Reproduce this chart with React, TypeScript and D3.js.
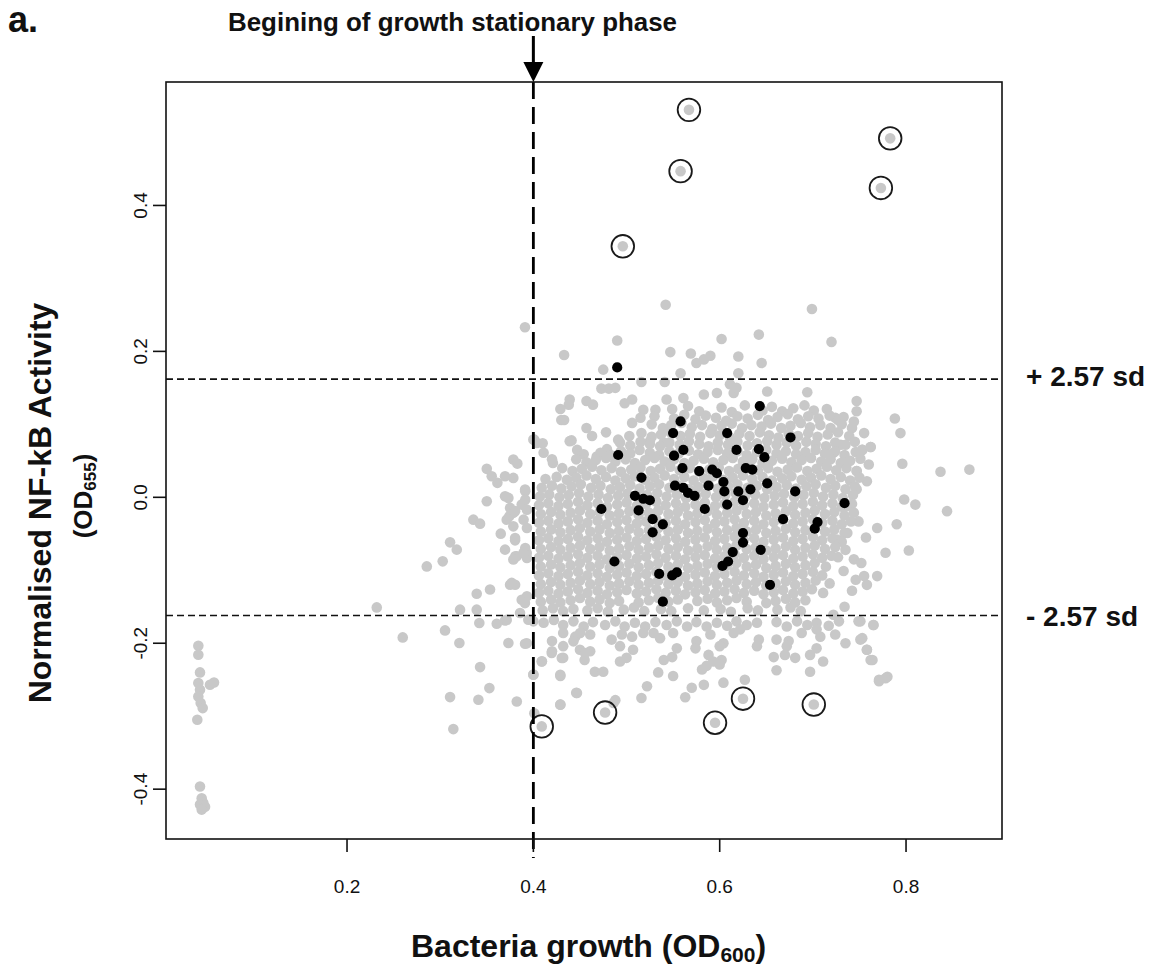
import React from 'react';
import * as d3 from 'd3';

// ---- data ----
const xTicks = [0.2, 0.4, 0.6, 0.8];
const yTicks = [-0.4, -0.2, 0.0, 0.2, 0.4];
const xDomain: [number, number] = [0.0057, 0.903];
const yDomain: [number, number] = [-0.4683, 0.5692];
const sdLimit = 0.162; // +/- 2.57 sd
const stationaryOD = 0.4; // begining of growth stationary phase

// highlighted hits (circled)
const circledOutliers = [
  [0.567, 0.531], [0.783, 0.492], [0.558, 0.447], [0.773, 0.424], [0.496, 0.344],
  [0.409, -0.314], [0.477, -0.295], [0.595, -0.309], [0.625, -0.276], [0.701, -0.284],
];

// black: control wells
const blackPoints = [
  [0.490, 0.178], [0.643, 0.125], [0.558, 0.104], [0.550, 0.088], [0.608, 0.088], [0.676, 0.082],
  [0.561, 0.065], [0.551, 0.057], [0.491, 0.058], [0.618, 0.065], [0.642, 0.066], [0.648, 0.055],
  [0.560, 0.040], [0.578, 0.036], [0.592, 0.038], [0.597, 0.033], [0.628, 0.040], [0.635, 0.038],
  [0.516, 0.027], [0.588, 0.016], [0.604, 0.021], [0.605, 0.008], [0.552, 0.016], [0.561, 0.013],
  [0.566, 0.006], [0.573, 0.002], [0.620, 0.008], [0.633, 0.011], [0.625, -0.004], [0.651, 0.019],
  [0.681, 0.008], [0.734, -0.008], [0.509, 0.002], [0.518, -0.002], [0.525, -0.004], [0.513, -0.018],
  [0.473, -0.016], [0.584, -0.016], [0.608, -0.010], [0.528, -0.030], [0.539, -0.037], [0.528, -0.048],
  [0.668, -0.030], [0.705, -0.034], [0.702, -0.043], [0.625, -0.049], [0.625, -0.062], [0.644, -0.072],
  [0.614, -0.075], [0.609, -0.088], [0.603, -0.094], [0.487, -0.088], [0.535, -0.105], [0.549, -0.107],
  [0.554, -0.103], [0.654, -0.120], [0.539, -0.143],
];

// grey: library wells, dense central cloud
const greyCore = [
  [.549,.121],[.566,.125],[.578,.118],[.602,.123],[.613,.117],[.627,.126],[.646,.119],[.656,.124],[.667,.118],[.679,.122],[.691,.126],[.701,.119],[.715,.121],
  [.551,.108],[.562,.113],[.574,.107],[.585,.112],[.596,.109],[.607,.105],[.619,.111],[.630,.108],[.641,.113],[.652,.106],[.662,.110],[.673,.114],[.684,.107],[.695,.111],[.706,.108],[.718,.112],[.727,.106],
  [.527,.100],[.539,.095],[.548,.099],[.559,.102],[.570,.096],[.581,.099],[.592,.094],[.602,.098],[.613,.101],[.624,.095],[.634,.099],[.645,.097],[.655,.101],[.666,.095],[.676,.098],[.687,.102],[.697,.096],[.708,.099],[.719,.095],[.731,.100],
  [.503,.084],[.516,.088],[.527,.083],[.537,.086],[.547,.089],[.558,.084],[.568,.087],[.579,.083],[.590,.088],[.600,.085],[.611,.082],[.621,.087],[.632,.084],[.643,.089],[.653,.085],[.663,.082],[.674,.087],[.684,.084],[.695,.088],[.705,.083],[.716,.086],[.727,.089],[.739,.084],
  [.493,.075],[.504,.071],[.515,.076],[.525,.073],[.536,.070],[.546,.075],[.557,.072],[.567,.077],[.578,.073],[.588,.070],[.598,.075],[.609,.072],[.619,.076],[.630,.071],[.640,.074],[.651,.077],[.661,.072],[.672,.075],[.682,.071],[.693,.076],[.703,.073],[.714,.070],[.724,.075],[.735,.072],[.745,.076],
  [.472,.061],[.483,.058],[.494,.063],[.504,.060],[.514,.065],[.525,.061],[.535,.058],[.546,.063],[.556,.060],[.567,.064],[.577,.059],[.587,.062],[.598,.065],[.608,.060],[.619,.063],[.629,.058],[.640,.062],[.650,.065],[.661,.060],[.671,.063],[.682,.059],[.692,.062],[.703,.065],[.713,.060],[.724,.063],[.734,.058],[.746,.062],
  [.446,.052],[.457,.048],[.467,.051],[.478,.054],[.488,.049],[.499,.052],[.509,.047],[.520,.051],[.530,.054],[.541,.049],[.551,.052],[.562,.047],[.572,.050],[.583,.053],[.593,.048],[.604,.051],[.614,.054],[.625,.049],[.635,.052],[.646,.047],[.656,.050],[.667,.053],[.677,.048],[.688,.051],[.698,.054],[.709,.049],[.719,.052],[.730,.047],[.740,.050],[.751,.053],
  [.431,.040],[.442,.036],[.452,.039],[.463,.042],[.473,.037],[.484,.040],[.494,.035],[.505,.038],[.515,.041],[.526,.036],[.536,.039],[.547,.042],[.557,.037],[.568,.040],[.578,.035],[.589,.038],[.599,.041],[.610,.036],[.620,.039],[.631,.042],[.641,.037],[.652,.040],[.662,.035],[.673,.038],[.683,.041],[.694,.036],[.704,.039],[.715,.042],[.725,.037],[.736,.040],[.747,.036],
  [.413,.025],[.425,.028],[.436,.024],[.446,.027],[.457,.030],[.467,.025],[.478,.028],[.488,.023],[.499,.026],[.509,.029],[.520,.024],[.530,.027],[.541,.030],[.551,.025],[.562,.028],[.572,.023],[.583,.026],[.593,.029],[.604,.024],[.614,.027],[.625,.030],[.635,.025],[.646,.028],[.656,.023],[.667,.026],[.677,.029],[.688,.024],[.698,.027],[.709,.030],[.719,.025],[.730,.028],[.740,.023],[.750,.027],
  [.409,.013],[.420,.016],[.430,.012],[.441,.015],[.451,.018],[.462,.013],[.472,.016],[.483,.011],[.493,.014],[.504,.017],[.514,.012],[.525,.015],[.535,.018],[.546,.013],[.556,.016],[.567,.011],[.577,.014],[.588,.017],[.598,.012],[.609,.015],[.619,.018],[.630,.013],[.640,.016],[.651,.011],[.661,.014],[.672,.017],[.682,.012],[.693,.015],[.703,.018],[.714,.013],[.724,.016],[.735,.011],[.745,.015],
  [.407,.001],[.417,.004],[.428,.000],[.438,.003],[.449,.006],[.459,.001],[.470,.004],[.480,-.001],[.491,.002],[.501,.005],[.512,.000],[.522,.003],[.533,.006],[.543,.001],[.554,.004],[.564,-.001],[.575,.002],[.585,.005],[.596,.000],[.606,.003],[.617,.006],[.627,.001],[.638,.004],[.648,-.001],[.659,.002],[.669,.005],[.680,.000],[.690,.003],[.701,.006],[.711,.001],[.722,.004],[.732,-.001],[.743,.003],
  [.406,-.011],[.416,-.008],[.427,-.012],[.437,-.009],[.448,-.006],[.458,-.011],[.469,-.008],[.479,-.013],[.490,-.010],[.500,-.007],[.511,-.012],[.521,-.009],[.532,-.006],[.542,-.011],[.553,-.008],[.563,-.013],[.574,-.010],[.584,-.007],[.595,-.012],[.605,-.009],[.616,-.006],[.626,-.011],[.637,-.008],[.647,-.013],[.658,-.010],[.668,-.007],[.679,-.012],[.689,-.009],[.700,-.006],[.710,-.011],[.721,-.008],[.731,-.013],[.742,-.009],
  [.408,-.023],[.419,-.020],[.429,-.024],[.440,-.021],[.450,-.018],[.461,-.023],[.471,-.020],[.482,-.025],[.492,-.022],[.503,-.019],[.513,-.024],[.524,-.021],[.534,-.018],[.545,-.023],[.555,-.020],[.566,-.025],[.576,-.022],[.587,-.019],[.597,-.024],[.608,-.021],[.618,-.018],[.629,-.023],[.639,-.020],[.650,-.025],[.660,-.022],[.671,-.019],[.681,-.024],[.692,-.021],[.702,-.018],[.713,-.023],[.723,-.020],[.734,-.025],[.744,-.021],
  [.406,-.035],[.416,-.032],[.427,-.036],[.437,-.033],[.448,-.030],[.458,-.035],[.469,-.032],[.479,-.037],[.490,-.034],[.500,-.031],[.511,-.036],[.521,-.033],[.532,-.030],[.542,-.035],[.553,-.032],[.563,-.037],[.574,-.034],[.584,-.031],[.595,-.036],[.605,-.033],[.616,-.030],[.626,-.035],[.637,-.032],[.647,-.037],[.658,-.034],[.668,-.031],[.679,-.036],[.689,-.033],[.700,-.030],[.710,-.035],[.721,-.032],[.731,-.037],[.741,-.033],
  [.408,-.047],[.419,-.044],[.429,-.048],[.440,-.045],[.450,-.042],[.461,-.047],[.471,-.044],[.482,-.049],[.492,-.046],[.503,-.043],[.513,-.048],[.524,-.045],[.534,-.042],[.545,-.047],[.555,-.044],[.566,-.049],[.576,-.046],[.587,-.043],[.597,-.048],[.608,-.045],[.618,-.042],[.629,-.047],[.639,-.044],[.650,-.049],[.660,-.046],[.671,-.043],[.681,-.048],[.692,-.045],[.702,-.042],[.713,-.047],[.723,-.044],[.734,-.049],
  [.406,-.059],[.416,-.056],[.427,-.060],[.437,-.057],[.448,-.054],[.458,-.059],[.469,-.056],[.479,-.061],[.490,-.058],[.500,-.055],[.511,-.060],[.521,-.057],[.532,-.054],[.542,-.059],[.553,-.056],[.563,-.061],[.574,-.058],[.584,-.055],[.595,-.060],[.605,-.057],[.616,-.054],[.626,-.059],[.637,-.056],[.647,-.061],[.658,-.058],[.668,-.055],[.679,-.060],[.689,-.057],[.700,-.054],[.710,-.059],[.721,-.056],[.731,-.061],
  [.408,-.071],[.419,-.068],[.429,-.072],[.440,-.069],[.450,-.066],[.461,-.071],[.471,-.068],[.482,-.073],[.492,-.070],[.503,-.067],[.513,-.072],[.524,-.069],[.534,-.066],[.545,-.071],[.555,-.068],[.566,-.073],[.576,-.070],[.587,-.067],[.597,-.072],[.608,-.069],[.618,-.066],[.629,-.071],[.639,-.068],[.650,-.073],[.660,-.070],[.671,-.067],[.681,-.072],[.692,-.069],[.702,-.066],[.713,-.071],[.724,-.068],
  [.406,-.083],[.416,-.080],[.427,-.084],[.437,-.081],[.448,-.078],[.458,-.083],[.469,-.080],[.479,-.085],[.490,-.082],[.500,-.079],[.511,-.084],[.521,-.081],[.532,-.078],[.542,-.083],[.553,-.080],[.563,-.085],[.574,-.082],[.584,-.079],[.595,-.084],[.605,-.081],[.616,-.078],[.626,-.083],[.637,-.080],[.647,-.085],[.658,-.082],[.668,-.079],[.679,-.084],[.689,-.081],[.700,-.078],[.710,-.083],[.720,-.080],
  [.408,-.095],[.419,-.092],[.429,-.096],[.440,-.093],[.450,-.090],[.461,-.095],[.471,-.092],[.482,-.097],[.492,-.094],[.503,-.091],[.513,-.096],[.524,-.093],[.534,-.090],[.545,-.095],[.555,-.092],[.566,-.097],[.576,-.094],[.587,-.091],[.597,-.096],[.608,-.093],[.618,-.090],[.629,-.095],[.639,-.092],[.650,-.097],[.660,-.094],[.671,-.091],[.681,-.096],[.692,-.093],[.702,-.090],[.714,-.095],
  [.406,-.107],[.416,-.104],[.427,-.108],[.437,-.105],[.448,-.102],[.458,-.107],[.469,-.104],[.479,-.109],[.490,-.106],[.500,-.103],[.511,-.108],[.521,-.105],[.532,-.102],[.542,-.107],[.553,-.104],[.563,-.109],[.574,-.106],[.584,-.103],[.595,-.108],[.605,-.105],[.616,-.102],[.626,-.107],[.637,-.104],[.647,-.109],[.658,-.106],[.668,-.103],[.679,-.108],[.689,-.105],[.700,-.102],[.710,-.107],
  [.408,-.119],[.419,-.116],[.429,-.120],[.440,-.117],[.450,-.114],[.461,-.119],[.471,-.116],[.482,-.121],[.492,-.118],[.503,-.115],[.513,-.120],[.524,-.117],[.534,-.114],[.545,-.119],[.555,-.116],[.566,-.121],[.576,-.118],[.587,-.115],[.597,-.120],[.608,-.117],[.618,-.114],[.629,-.119],[.639,-.116],[.650,-.121],[.660,-.118],[.671,-.115],[.681,-.120],[.692,-.117],[.703,-.114],
  [.406,-.131],[.416,-.128],[.427,-.132],[.437,-.129],[.448,-.126],[.458,-.131],[.469,-.128],[.479,-.133],[.490,-.130],[.500,-.127],[.511,-.132],[.521,-.129],[.532,-.126],[.542,-.131],[.553,-.128],[.563,-.133],[.574,-.130],[.584,-.127],[.595,-.132],[.605,-.129],[.616,-.126],[.626,-.131],[.637,-.128],[.647,-.133],[.658,-.130],[.668,-.127],[.679,-.132],[.689,-.129],[.699,-.126],
  [.408,-.143],[.419,-.140],[.429,-.144],[.440,-.141],[.450,-.138],[.461,-.143],[.471,-.140],[.482,-.145],[.492,-.142],[.513,-.144],[.524,-.141],[.534,-.138],[.545,-.143],[.555,-.140],[.576,-.142],[.587,-.139],[.597,-.144],[.608,-.141],[.618,-.138],[.629,-.143],[.650,-.145],[.660,-.142],[.671,-.139],[.681,-.144],[.692,-.141],
  [.410,-.155],[.421,-.152],[.432,-.156],[.443,-.153],[.458,-.155],[.469,-.152],[.480,-.157],[.497,-.154],[.508,-.151],[.519,-.156],[.537,-.153],[.548,-.156],[.566,-.152],[.583,-.155],[.601,-.153],[.612,-.157],[.630,-.152],[.641,-.155],[.662,-.154],[.676,-.151],[.687,-.156],
];

// grey: scattered wells around the cloud
const greyFringe = [
  // above the cloud
  [.391,.233],[.433,.195],[.439,.134],[.438,.127],[.429,.121],[.430,.106],[.457,.132],[.464,.127],[.542,.264],[.699,.258],
  [.490,.215],[.602,.217],[.642,.223],[.720,.213],[.547,.199],[.569,.197],[.575,.184],[.583,.189],[.590,.194],[.620,.193],
  [.645,.184],[.475,.175],[.558,.170],[.620,.170],[.516,.158],[.541,.158],[.473,.149],[.481,.149],[.488,.150],[.611,.155],
  [.615,.143],[.618,.150],[.651,.145],[.694,.144],[.747,.132],[.747,.118],[.744,.104],[.788,.108],[.794,.088],[.724,.109],
  [.733,.110],[.753,.065],[.762,.069],[.796,.046],[.837,.035],[.868,.038],[.498,.129],[.506,.134],[.518,.120],[.531,.120],
  [.506,.102],[.543,.134],[.561,.136],[.583,.141],[.597,.143],[.457,.095],[.463,.084],[.401,.079],[.410,.074],[.441,.078],
  [.447,.065],[.421,.047],[.439,.077],[.479,.066],[.491,.079],[.525,.077],[.540,.075],[.454,.059],[.411,.061],[.420,.052],
  [.468,.056],[.433,.106],[.478,.089],[.515,.109],[.530,.111],
  // right side
  [.810,-.010],[.798,-.003],[.844,-.019],[.790,-.037],[.769,-.042],[.778,-.076],[.803,-.073],[.769,-.108],[.758,-.120],
  [.746,-.113],[.753,-.193],[.758,-.209],[.764,-.223],[.771,-.250],[.780,-.246],[.751,-.170],[.765,-.175],[.722,.061],
  [.730,.072],[.753,.065],[.762,.069],[.747,.036],[.747,.011],[.737,-.012],[.749,-.033],[.737,-.049],[.726,-.058],
  [.735,-.072],[.744,-.085],[.733,-.101],[.755,-.108],[.758,.022],[.757,-.055],[.752,-.090],[.742,-.128],[.734,-.150],
  [.722,-.161],[.711,-.131],[.718,-.118],[.727,-.082],[.760,.045],[.755,.088],[.742,.095],
  // below the -2.57 sd line
  [.400,-.170],[.411,-.172],[.422,-.168],[.432,-.175],[.443,-.170],[.454,-.177],[.464,-.171],[.477,-.175],[.488,-.170],
  [.498,-.177],[.509,-.172],[.520,-.177],[.531,-.171],[.543,-.175],[.554,-.170],[.565,-.177],[.575,-.171],[.586,-.177],
  [.597,-.172],[.608,-.176],[.618,-.170],[.629,-.175],[.640,-.172],[.661,-.171],[.672,-.177],[.683,-.170],[.694,-.175],
  [.704,-.172],[.717,-.176],[.728,-.170],[.749,-.170],[.765,-.175],
  [.393,-.200],[.420,-.197],[.432,-.186],[.445,-.191],[.461,-.188],[.484,-.195],[.495,-.188],[.506,-.191],[.518,-.186],
  [.529,-.186],[.536,-.193],[.550,-.186],[.575,-.197],[.590,-.188],[.604,-.200],[.615,-.186],[.622,-.181],[.642,-.195],
  [.661,-.195],[.674,-.197],[.688,-.186],[.704,-.181],[.708,-.191],[.724,-.188],[.751,-.195],[.758,-.209],
  [.420,-.211],[.432,-.204],[.450,-.209],[.461,-.211],[.493,-.204],[.507,-.209],[.554,-.207],[.574,-.207],[.588,-.216],
  [.600,-.204],[.640,-.204],[.672,-.204],[.704,-.207],[.735,-.200],[.762,-.223],
  [.409,-.225],[.432,-.220],[.455,-.223],[.493,-.225],[.500,-.220],[.540,-.223],[.549,-.219],[.581,-.236],[.593,-.225],
  [.602,-.223],[.658,-.219],[.670,-.216],[.681,-.220],[.697,-.216],[.711,-.225],
  [.400,-.243],[.429,-.245],[.466,-.239],[.475,-.239],[.534,-.240],[.550,-.245],[.586,-.231],[.600,-.229],[.627,-.250],
  [.604,-.254],[.661,-.237],[.697,-.239],[.771,-.252],[.778,-.248],
  [.446,-.268],[.488,-.278],[.516,-.275],[.522,-.259],[.563,-.274],[.570,-.261],[.583,-.257],[.429,-.284],[.486,-.282],
  [.401,-.296],
  // left of the stationary phase line
  [.3785,.0517],[.3828,.0462],[.350,.039],[.3553,.0288],[.3614,.0198],[.3785,.0266],[.3911,.0106],[.3696,.0014],
  [.350,-.0055],[.375,-.0145],[.3875,-.010],[.3742,-.0261],[.3785,-.0398],[.3356,-.0306],[.3428,-.0361],[.365,-.0498],
  [.3804,-.059],[.3106,-.0617],[.3178,-.0717],[.3027,-.0878],[.2856,-.0947],[.3822,-.0809],[.3929,-.0763],[.375,-.1198],
  [.3804,-.1198],[.3392,-.1321],[.3875,-.1403],[.3213,-.154],[.3392,-.154],[.2319,-.1509],[.3857,-.1586],[.3946,-.1678],
  [.342,-.1723],[.3607,-.1733],[.3696,-.1687],[.2598,-.192],[.3052,-.1824],[.3206,-.1997],[.3732,-.1997],[.3911,-.2007],
  [.3428,-.2327],[.400,-.2432],[.3528,-.2615],[.3106,-.2738],[.341,-.2775],[.3822,-.2798],[.3141,-.3177],[.400,.0791],
  [.4036,.0746],[.3913,.0082],[.3913,-.0032],[.3931,-.0169],[.3895,-.0306],[.3931,-.042],[.3913,-.0694],[.3931,-.0831],
  [.3806,-.0808],[.3931,-.1357],[.3768,-.1173],[.3535,-.1264],[.3893,-.0762],[.3785,-.0853],[.3785,-.0213],[.3714,-.168],
  [.3696,.0288],[.3732,-.0008],[.3804,-.019],[.3714,-.0306],[.3804,-.0557],[.3696,-.0717],[.391,-.145],[.4092,-.2248],
  [.4289,-.2431],[.4468,-.2682],[.4197,-.2134],[.4305,-.2202],[.443,-.1974],[.4502,-.186],[.4555,-.2134],[.4289,-.2842],
];

// grey: wells with almost no growth
const greyLeftColumn = [
  [.0404,-.2034],[.0404,-.2158],[.0422,-.240],[.0404,-.2546],[.0422,-.2638],[.0404,-.273],[.0429,-.282],[.0451,-.2889],
  [.0393,-.3049],[.0529,-.2569],[.0572,-.2538],[.0422,-.3964],[.044,-.4124],[.0458,-.419],[.0422,-.421],[.0476,-.424],
  [.044,-.428],
];

// ---- layout ----
const W = 1152;
const H = 968;
const PL = 166, PR = 1002, PT = 82, PB = 839;
const FONT = '"Liberation Sans", Arial, Helvetica, sans-serif';
const GREY = '#c8c8c8';

export default function App() {
  const x = d3.scaleLinear().domain(xDomain).range([PL, PR]);
  const y = d3.scaleLinear().domain(yDomain).range([PB, PT]);
  const grey = [...greyLeftColumn, ...greyFringe, ...greyCore, ...circledOutliers];
  const vx = x(stationaryOD);

  return (
    <div style={{ position: 'absolute', left: 0, top: 0 }}>
      <svg width={W} height={H} viewBox={`0 0 ${W} ${H}`} style={{ display: 'block', background: '#fff' }}>
        <rect x={0} y={0} width={W} height={H} fill="#fff" />

        {/* grey wells */}
        <g>
          {grey.map(([a, b], i) => (
            <circle key={i} cx={x(a)} cy={y(b)} r={5.3} fill={GREY} />
          ))}
        </g>
        {/* control wells */}
        <g>
          {blackPoints.map(([a, b], i) => (
            <circle key={i} cx={x(a)} cy={y(b)} r={5.1} fill="#000" />
          ))}
        </g>
        {/* hits circled */}
        <g>
          {circledOutliers.map(([a, b], i) => (
            <circle key={i} cx={x(a)} cy={y(b)} r={11.3} fill="none" stroke="#1a1a1a" strokeWidth={1.8} />
          ))}
        </g>

        {/* +/- 2.57 sd */}
        {[sdLimit, -sdLimit].map((v, i) => (
          <line key={i} x1={PL} x2={PR} y1={y(v)} y2={y(v)} stroke="#111" strokeWidth={1.6} strokeDasharray="7 4" />
        ))}
        {/* stationary phase */}
        <line x1={vx} x2={vx} y1={PT} y2={858} stroke="#000" strokeWidth={2.8} strokeDasharray="17 8" />

        <rect x={PL} y={PT} width={PR - PL} height={PB - PT} fill="none" stroke="#111" strokeWidth={1.6} />

        {/* axes */}
        {xTicks.map((t) => (
          <g key={t}>
            <line x1={x(t)} x2={x(t)} y1={PB} y2={PB + 13} stroke="#111" strokeWidth={1.6} />
            <text x={x(t)} y={PB + 54} textAnchor="middle" fontFamily={FONT} fontSize={19} fill="#111">
              {d3.format('.1f')(t)}
            </text>
          </g>
        ))}
        {yTicks.map((t) => (
          <g key={t}>
            <line x1={PL - 13} x2={PL} y1={y(t)} y2={y(t)} stroke="#111" strokeWidth={1.6} />
            <text
              transform={`translate(${PL - 19},${y(t)}) rotate(-90)`}
              textAnchor="middle"
              fontFamily={FONT}
              fontSize={19}
              fill="#111"
            >
              {d3.format('.1f')(t).replace('−', '-')}
            </text>
          </g>
        ))}

        {/* arrow + annotation */}
        <line x1={vx} x2={vx} y1={36} y2={64} stroke="#000" strokeWidth={3} />
        <path d={`M${vx - 10},${62} L${vx + 10},${62} L${vx},${PT} Z`} fill="#000" />
        <text x={228} y={31} fontFamily={FONT} fontSize={26} fontWeight="bold" fill="#111" textLength={449} lengthAdjust="spacingAndGlyphs">
          Begining of growth stationary phase
        </text>
        <text x={8} y={32} fontFamily={FONT} fontSize={36} fontWeight="bold" fill="#111">a.</text>

        <text x={1026} y={y(sdLimit) + 7} fontFamily={FONT} fontSize={28} fontWeight="bold" fill="#111">+ 2.57 sd</text>
        <text x={1026} y={y(-sdLimit) + 10} fontFamily={FONT} fontSize={28} fontWeight="bold" fill="#111">- 2.57 sd</text>

        {/* axis titles */}
        <text x={411} y={957} fontFamily={FONT} fontSize={32} fontWeight="bold" fill="#111">
          Bacteria growth (OD<tspan fontSize={21} dy={5}>600</tspan><tspan dy={-5}>)</tspan>
        </text>
        <text
          transform={`translate(51,503) rotate(-90)`}
          textAnchor="middle"
          fontFamily={FONT}
          fontSize={32}
          fontWeight="bold"
          fill="#111"
        >
          Normalised NF-kB Activity
        </text>
        <text
          transform={`translate(92,496) rotate(-90)`}
          textAnchor="middle"
          fontFamily={FONT}
          fontSize={26}
          fontWeight="bold"
          fill="#111"
        >
          (OD<tspan fontSize={17} dy={4}>655</tspan><tspan dy={-4}>)</tspan>
        </text>
      </svg>
    </div>
  );
}
